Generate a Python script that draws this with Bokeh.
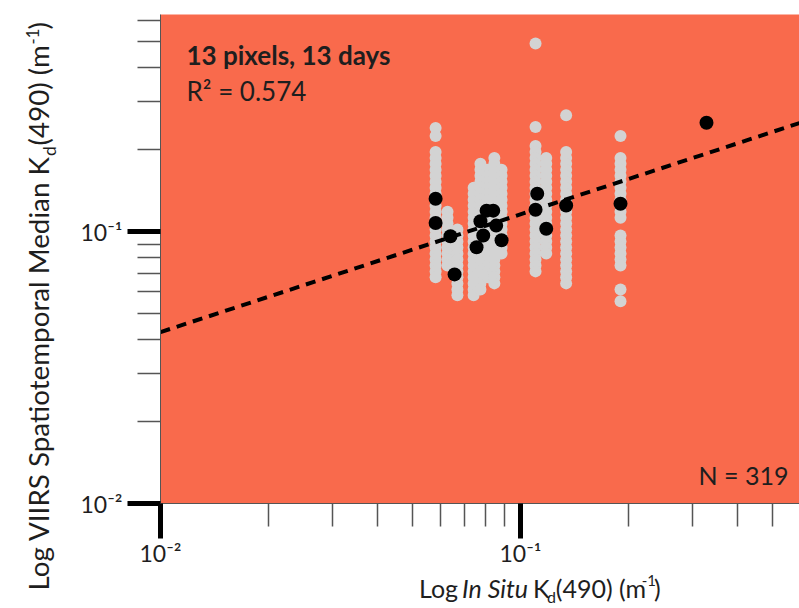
import math
from bokeh.plotting import figure
from bokeh.models import Range1d, FixedTicker, Label
from bokeh.layouts import row, column
from bokeh.embed import file_html
from bokeh.resources import INLINE

# ---------------- data ----------------
# medians (black)
black_x = [0.0581, 0.0581, 0.0639, 0.0656, 0.0755, 0.0774, 0.0788, 0.0805, 0.0840,
           0.0856, 0.0886, 0.1101, 0.1113, 0.1179, 0.1339, 0.1896, 0.3286]
black_y = [0.1321, 0.1076, 0.0961, 0.0696, 0.0876, 0.1091, 0.0967, 0.1194, 0.1194,
           0.1052, 0.0929, 0.1204, 0.1378, 0.1025, 0.1248, 0.1266, 0.2514]

# individual pixel values (grey), one list per in-situ column
gray_col_x = [0.0581, 0.0627, 0.0668, 0.0741, 0.0774, 0.0811, 0.0846, 0.0886,
              0.1101, 0.1179, 0.1339, 0.1896]
gray_col_y = [
    [0.2404, 0.2247, 0.1963, 0.1866, 0.1775, 0.1687, 0.1604, 0.1525, 0.1449, 0.1378,
     0.1310, 0.1245, 0.1184, 0.1125, 0.1070, 0.1017, 0.0967, 0.0919, 0.0874, 0.0831,
     0.0790, 0.0751, 0.0714, 0.0679],
    [0.1184, 0.1125, 0.1070, 0.1017, 0.0967, 0.0919, 0.0874, 0.0831, 0.0790, 0.0751],
    [0.1017, 0.0967, 0.0919, 0.0874, 0.0831, 0.0790, 0.0751, 0.0714, 0.0679, 0.0645,
     0.0613, 0.0583],
    [0.1449, 0.1378, 0.1310, 0.1245, 0.1184, 0.1125, 0.1070, 0.1017, 0.0967, 0.0919,
     0.0874, 0.0831, 0.0790, 0.0751, 0.0714, 0.0679, 0.0645, 0.0613, 0.0583],
    [0.1775, 0.1687, 0.1604, 0.1525, 0.1449, 0.1378, 0.1310, 0.1245, 0.1184, 0.1125,
     0.1070, 0.1017, 0.0967, 0.0919, 0.0874, 0.0831, 0.0790, 0.0751, 0.0714, 0.0679,
     0.0645, 0.0613],
    [0.1687, 0.1604, 0.1525, 0.1449, 0.1378, 0.1310, 0.1245, 0.1184, 0.1125, 0.1070,
     0.1017, 0.0967, 0.0919, 0.0874, 0.0831, 0.0790, 0.0751, 0.0714, 0.0679],
    [0.1866, 0.1775, 0.1687, 0.1604, 0.1525, 0.1449, 0.1378, 0.1310, 0.1245, 0.1184,
     0.1125, 0.1070, 0.1017, 0.0967, 0.0919, 0.0874, 0.0831, 0.0790, 0.0751, 0.0714,
     0.0679, 0.0645],
    [0.1687, 0.1604, 0.1525, 0.1449, 0.1378, 0.1310, 0.1245, 0.1184, 0.1125, 0.1070,
     0.1017, 0.0967, 0.0919, 0.0874, 0.0831],
    [0.4920, 0.2425, 0.2065, 0.1963, 0.1866, 0.1775, 0.1687, 0.1604, 0.1525, 0.1449,
     0.1378, 0.1310, 0.1245, 0.1184, 0.1125, 0.1070, 0.1017, 0.0967, 0.0919, 0.0874,
     0.0831, 0.0790, 0.0751, 0.0714],
    [0.1866, 0.1775, 0.1687, 0.1604, 0.1525, 0.1449, 0.1378, 0.1310, 0.1245, 0.1184,
     0.1125, 0.1070, 0.1017, 0.0967, 0.0919, 0.0874, 0.0831],
    [0.2680, 0.1963, 0.1866, 0.1775, 0.1687, 0.1604, 0.1525, 0.1449, 0.1378, 0.1310,
     0.1245, 0.1184, 0.1125, 0.1070, 0.1017, 0.0967, 0.0919, 0.0874, 0.0831, 0.0790,
     0.0751, 0.0714, 0.0679, 0.0645],
    [0.2247, 0.1866, 0.1775, 0.1687, 0.1604, 0.1525, 0.1449, 0.1378, 0.1310, 0.1245,
     0.1184, 0.1125, 0.0967, 0.0919, 0.0874, 0.0831, 0.0790, 0.0751, 0.0613, 0.0554],
]

# regression line end points
fit_x = [0.01, 0.5957]
fit_y = [0.0427, 0.2507]

# axis ticks
x_major = [0.01, 0.1]
x_minor = [0.02, 0.03, 0.04, 0.05, 0.06, 0.07, 0.08, 0.09, 0.2, 0.3, 0.4, 0.5]
y_major = [0.01, 0.1]
y_minor = [0.02, 0.03, 0.04, 0.05, 0.06, 0.07, 0.08, 0.09, 0.2, 0.3, 0.4, 0.5, 0.6]
major_labels = ["10⁻²", "10⁻¹"]

title_text = "13 pixels, 13 days"
r2_text = "R² = 0.574"
n_text = "N = 319"
# title pieces: normal / italic / normal / subscript / normal / superscript / normal
x_title = ["Log", "In Situ", "K", "d", "(490) (m", "-1", ")"]
y_title = ["Log VIIRS Spatiotemporal Median K", "d", "(490) (m", "-1", ")"]

# ---------------- layout geometry (global page pixels) ----------------
W, H = 799, 608
YT_W = 70            # strip holding the rotated y title
XT_H = 39            # strip holding the x title
MAIN_W, MAIN_H = W - YT_W, H - XT_H
FRAME_L = 160        # page x of frame left
FRAME_T = 14         # page y of frame top
FRAME_B = 505        # page y of frame bottom
X0, X1 = 0.01, 0.5957
Y0, Y1 = 0.01, 0.6287

ORANGE = "#F96A4C"
GREY = "#D3D3D3"
TXT = "#1E1E1E"
FONT = "Lato"
BASE_FIX = 0.42      # Label draws 'alphabetic' text ~0.42em below the anchor

p = figure(width=MAIN_W, height=MAIN_H, x_axis_type="log", y_axis_type="log",
           x_range=Range1d(X0, X1), y_range=Range1d(Y0, Y1),
           output_backend="svg", toolbar_location=None,
           min_border_left=FRAME_L - YT_W, min_border_right=0,
           min_border_top=FRAME_T, min_border_bottom=MAIN_H - FRAME_B)
p.background_fill_color = ORANGE
p.border_fill_color = "white"
p.outline_line_color = None
p.grid.visible = False

frame_w = W - FRAME_L
frame_h = FRAME_B - FRAME_T
dec_x = frame_w / (math.log10(X1) - math.log10(X0))
dec_y = frame_h / (math.log10(Y1) - math.log10(Y0))


def dx(px):
    return 10 ** (math.log10(X0) + (px - FRAME_L) / dec_x)


def dy(py):
    return 10 ** (math.log10(Y0) + (FRAME_B - py) / dec_y)


overrides = {}
for v, lab_ in zip(x_major, major_labels):
    overrides[v] = lab_
    overrides[str(v)] = lab_

for ax, maj, mnr in ((p.xaxis[0], x_major, x_minor), (p.yaxis[0], y_major, y_minor)):
    ax.ticker = FixedTicker(ticks=maj, minor_ticks=mnr)
    ax.major_label_overrides = overrides
    ax.axis_line_color = "#555555"
    ax.axis_line_width = 1
    ax.major_tick_line_color = "black"
    ax.major_tick_line_width = 5
    ax.major_tick_line_cap = "butt"
    ax.minor_tick_line_color = "#555555"
    ax.minor_tick_line_width = 1.5
    ax.major_tick_in = 0
    ax.minor_tick_in = 0
    ax.major_label_text_font = FONT
    ax.major_label_text_font_size = "23px"
    ax.major_label_text_color = TXT

p.xaxis.major_tick_out = 35
p.xaxis.minor_tick_out = 23
p.xaxis.major_label_standoff = 0
p.yaxis.major_tick_out = 33
p.yaxis.minor_tick_out = 23
p.yaxis.major_label_standoff = 5

# grey pixel values
gx, gy = [], []
for xv, ys in zip(gray_col_x, gray_col_y):
    for yv in ys:
        gx.append(xv)
        gy.append(yv)
p.scatter(gx, gy, size=12, fill_color=GREY, line_color=None)

# regression line
p.line(fit_x, fit_y, line_color="black", line_width=4, line_dash="10 7")

# medians
p.scatter(black_x, black_y, size=14, fill_color="black", line_color=None)


def in_lab(px, py, text, fs, style="normal"):
    p.add_layout(Label(x=dx(px), y=dy(py - BASE_FIX * fs), text=text, text_font=FONT,
                       text_font_size=f"{fs}px", text_font_style=style, text_color=TXT,
                       text_baseline="alphabetic", text_align="left"))


in_lab(186, 66, title_text, 26, "bold")
in_lab(186, 102, r2_text, 26)
in_lab(698, 487, n_text, 25)


def strip(w, h):
    f = figure(width=w, height=h, x_range=Range1d(0, w), y_range=Range1d(0, h),
               output_backend="svg", toolbar_location=None,
               x_axis_location=None, y_axis_location=None,
               min_border=0, min_border_left=0, min_border_right=0,
               min_border_top=0, min_border_bottom=0)
    f.outline_line_color = None
    f.grid.visible = False
    f.background_fill_color = "white"
    f.border_fill_color = "white"
    return f


# ---- x title strip (below the main figure) ----
xs = strip(MAIN_W, XT_H)


def x_lab(px, py, text, fs, style="normal"):
    # px, py: page pixels of the baseline start
    xs.add_layout(Label(x=px - YT_W, y=H - (py - BASE_FIX * fs), text=text,
                        text_font=FONT, text_font_size=f"{fs}px",
                        text_font_style=style, text_color=TXT,
                        text_baseline="alphabetic", text_align="left"))


XB = 598
x_lab(365, XB, x_title[0], 25)
x_lab(414, XB, x_title[1], 25, "italic")
x_lab(495, XB, x_title[2], 25)
x_lab(511, XB + 5, x_title[3], 16)
x_lab(521, XB, x_title[4], 25)
x_lab(619, XB - 12, x_title[5], 15)
x_lab(633, XB, x_title[6], 25)

# ---- y title strip (left of everything) ----
ys_ = strip(YT_W, H)


def y_lab(px, py, text, fs):
    # px: page x of the baseline, py: page y where the (upward) text starts
    ys_.add_layout(Label(x=px - BASE_FIX * fs, y=H - py, text=text,
                         text_font=FONT, text_font_size=f"{fs}px", text_color=TXT,
                         text_baseline="alphabetic", text_align="left",
                         angle=math.pi / 2))


YB = 50
y_lab(YB, 590, y_title[0], 27.8)
y_lab(YB + 6, 155.5, y_title[1], 17.5)
y_lab(YB, 145, y_title[2], 27.8)
y_lab(YB - 11, 44, y_title[3], 16.5)
y_lab(YB, 29, y_title[4], 27.8)

layout = row(ys_, column(p, xs))
open("out.html", "w").write(file_html(layout, INLINE))
